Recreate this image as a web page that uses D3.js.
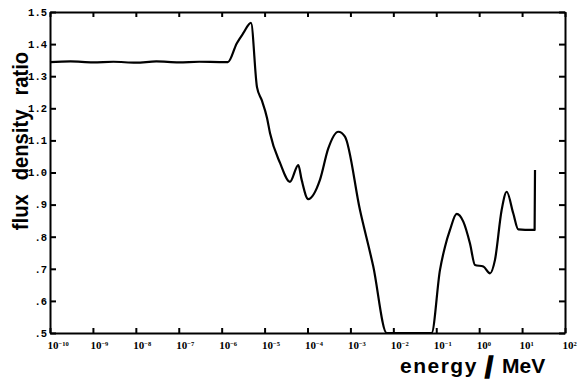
<!DOCTYPE html>
<html>
<head>
<meta charset="utf-8">
<script src="https://cdn.jsdelivr.net/npm/d3@7"></script>
<style>
  body { margin: 0; background: #fff; }
  svg { display: block; }
</style>
</head>
<body>
<div id="chart"></div>
<script>
// energy in MeV
const energies = [
  1e-10, 3e-10, 1e-9, 3e-9, 1e-8, 3e-8, 1e-7, 3e-7, 1e-6, 1.4e-6,
  2.24e-6, 3.19e-6, 4.82e-6, 6.65e-6, 8.55e-6, 1.14e-5, 1.34e-5, 2.29e-5,
  3.91e-5, 6.1e-5, 7.31e-5, 1.04e-4, 1.95e-4, 3.05e-4, 5.21e-4, 7.46e-4,
  1.67e-3, 3.41e-3, 7.0e-3, 7.8e-2, 0.122, 0.16, 0.209, 0.299, 0.427,
  0.611, 0.798, 1.25, 1.79, 2.33, 3.34, 4.38, 6.22, 8.15, 17.0, 19.6, 20.0
];
const ratios = [
  1.344, 1.346, 1.343, 1.345, 1.342, 1.346, 1.343, 1.345, 1.344, 1.344,
  1.402, 1.434, 1.466, 1.266, 1.226, 1.170, 1.122, 1.030,
  0.971, 1.023, 0.977, 0.917, 0.977, 1.075, 1.127, 1.112,
  0.883, 0.707, 0.5, 0.5, 0.696, 0.769, 0.821, 0.871, 0.847,
  0.779, 0.712, 0.707, 0.686, 0.727, 0.883, 0.940, 0.873, 0.823, 0.821, 0.821, 1.008
];
const xTickExponents = [-10, -9, -8, -7, -6, -5, -4, -3, -2, -1, 0, 1, 2];
const yTicks = [0.5, 0.6, 0.7, 0.8, 0.9, 1.0, 1.1, 1.2, 1.3, 1.4, 1.5];
const yTickLabels = [".5", ".6", ".7", ".8", ".9", "1.0", "1.1", "1.2", "1.3", "1.4", "1.5"];

const width = 578, height = 387;
const margin = { top: 12, right: 13, bottom: 54, left: 50 };
const innerW = width - margin.left - margin.right;
const innerH = height - margin.top - margin.bottom;

const svg = d3.select("#chart").append("svg")
  .attr("width", width)
  .attr("height", height)
  .style("background", "#fff");

const g = svg.append("g")
  .attr("transform", `translate(${margin.left},${margin.top})`);

const x = d3.scaleLog().domain([1e-10, 1e2]).range([0, innerW]);
const y = d3.scaleLinear().domain([0.5, 1.5]).range([innerH, 0]);

const decades = xTickExponents.map(e => Math.pow(10, e));

// bottom axis, ticks point inward, labels 10^n
const xAxis = g.append("g")
  .attr("transform", `translate(0,${innerH})`)
  .call(d3.axisBottom(x).tickValues(decades).tickSizeInner(-5).tickSizeOuter(0).tickFormat(""));
xAxis.selectAll(".tick text")
  .attr("y", 8)
  .attr("dy", "0.71em")
  .attr("text-anchor", "start")
  .attr("x", -3)
  .style("font-family", "'Liberation Serif', serif")
  .style("font-weight", "bold")
  .style("font-size", "11px")
  .each(function (d, i) {
    const t = d3.select(this);
    t.append("tspan").text("10");
    t.append("tspan")
      .attr("dy", "-0.45em")
      .style("font-size", "6.5px")
      .text(xTickExponents[i] < 0 ? "\u2212" + Math.abs(xTickExponents[i]) : xTickExponents[i]);
  });

// top axis
g.append("g")
  .call(d3.axisTop(x).tickValues(decades).tickSizeInner(-5).tickSizeOuter(0).tickFormat(""));

// left axis
const yAxis = g.append("g")
  .call(d3.axisLeft(y).tickValues(yTicks).tickSizeInner(-6).tickSizeOuter(0)
    .tickFormat((d, i) => yTickLabels[i]));
yAxis.selectAll(".tick text")
  .attr("x", -3)
  .style("font-family", "'Liberation Mono', monospace")
  .style("font-weight", "bold")
  .style("font-size", "10.5px");

// right axis
g.append("g")
  .attr("transform", `translate(${innerW},0)`)
  .call(d3.axisRight(y).tickValues(yTicks).tickSizeInner(-6).tickSizeOuter(0).tickFormat(""));

svg.selectAll(".domain").attr("stroke", "#000").attr("stroke-width", 2);
svg.selectAll(".tick line").attr("stroke", "#000").attr("stroke-width", 2);
svg.selectAll(".tick text").attr("fill", "#000");

// curve
const line = d3.line()
  .x((d, i) => x(energies[i]))
  .y(d => y(d))
  .curve(d3.curveMonotoneX);

g.append("path")
  .datum(ratios)
  .attr("fill", "none")
  .attr("stroke", "#000")
  .attr("stroke-width", 2.2)
  .attr("stroke-linejoin", "round")
  .attr("d", line);

// axis titles
svg.append("text")
  .attr("transform", "translate(28,141) rotate(-90) scale(0.92,1)")
  .attr("text-anchor", "middle")
  .style("font-family", "'Liberation Sans', Arial, sans-serif")
  .style("font-weight", "bold")
  .style("font-size", "22px")
  .style("word-spacing", "9px")
  .text("flux density ratio");

const titleFont = "'Liberation Sans', Arial, sans-serif";
svg.append("text")
  .attr("x", 400).attr("y", 373)
  .style("font-family", titleFont)
  .style("font-weight", "bold")
  .style("font-size", "21px")
  .style("letter-spacing", "1.5px")
  .text("energy");
svg.append("text")
  .attr("x", 485).attr("y", 378)
  .style("font-family", titleFont)
  .style("font-weight", "bold")
  .style("font-size", "29px")
  .attr("stroke", "#000").attr("stroke-width", 1.5)
  .text("/");
svg.append("text")
  .attr("x", 502).attr("y", 373)
  .style("font-family", titleFont)
  .style("font-weight", "bold")
  .style("font-size", "21px")
  .text("MeV");
</script>
</body>
</html>
